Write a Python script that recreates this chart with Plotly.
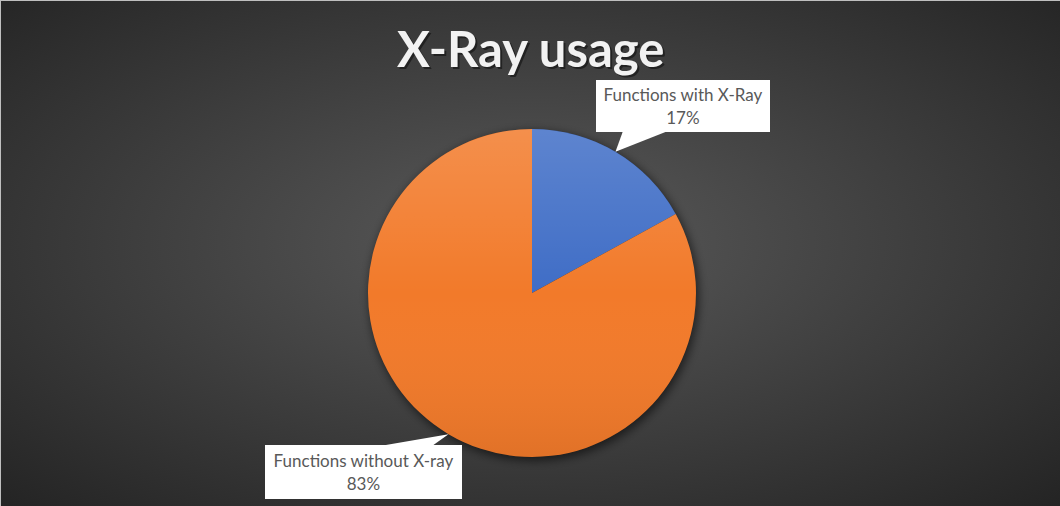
import math, base64
import plotly.graph_objects as go

# ---- data ----
labels = ["Functions with X-Ray", "Functions without X-ray"]
values = [17, 83]
pct_text = ["17%", "83%"]
colors = ["#3F6DC6", "#F27A2A"]
title_text = "X-Ray usage"

W, H = 1060, 506
cx, cy, r = 532, 293, 164          # pie centre / radius in pixels (layout)

def px(x):  # pixel -> paper
    return x / W
def py(y):
    return 1 - y / H

fig = go.Figure(go.Pie(
    labels=labels, values=values, sort=False, direction="clockwise", rotation=0,
    marker=dict(colors=colors, line=dict(width=0)),
    textinfo="none", hoverinfo="label+percent", showlegend=False,
    domain=dict(x=[px(cx - r), px(cx + r)], y=[py(cy + r), py(cy - r)]),
))

# background radial gradient + pie shadow
bg_svg = f'''<svg xmlns="http://www.w3.org/2000/svg" width="{W}" height="{H}" viewBox="0 0 {W} {H}">
<defs>
<radialGradient id="g" cx="50%" cy="48%" r="72%">
<stop offset="0%" stop-color="#5a5a5a"/><stop offset="100%" stop-color="#242424"/></radialGradient>
<filter id="b" x="-30%" y="-30%" width="160%" height="160%"><feGaussianBlur stdDeviation="5"/></filter>
</defs>
<rect width="{W}" height="{H}" fill="url(#g)"/>
<circle cx="{cx+2}" cy="{cy+3}" r="{r+1}" fill="rgba(0,0,0,0.55)" filter="url(#b)"/>
</svg>'''
ov_svg = f'''<svg xmlns="http://www.w3.org/2000/svg" width="{2*r}" height="{2*r}" viewBox="0 0 {2*r} {2*r}">
<defs><linearGradient id="l" x1="0" y1="0" x2="0" y2="1">
<stop offset="0%" stop-color="rgba(255,255,255,0.16)"/>
<stop offset="50%" stop-color="rgba(255,255,255,0)"/>
<stop offset="100%" stop-color="rgba(0,0,0,0.07)"/></linearGradient></defs>
<circle cx="{r}" cy="{r}" r="{r}" fill="url(#l)"/></svg>'''

def uri(s):
    return "data:image/svg+xml;base64," + base64.b64encode(s.encode()).decode()

images = [
    dict(source=uri(bg_svg), xref="paper", yref="paper", x=0, y=1, sizex=1, sizey=1,
         xanchor="left", yanchor="top", sizing="stretch", layer="below"),
    dict(source=uri(ov_svg), xref="paper", yref="paper", x=px(cx - r), y=py(cy - r),
         sizex=2 * r / W, sizey=2 * r / H, xanchor="left", yanchor="top",
         sizing="stretch", layer="above"),
]

# label boxes (layout positions: centre x, centre y, width, height, pointer base x0,x1, base y)
boxes = [
    dict(cx=683, cy=106, w=174, h=52, bx0=623, bx1=668, by=131),
    dict(cx=363.5, cy=472, w=197, h=54, bx0=380, bx1=432, by=446),
]

total = sum(values)
cum = 0
shapes, annotations = [], []
for i, v in enumerate(values):
    mid = (cum + v / 2) / total * 2 * math.pi
    cum += v
    tx = cx + r * math.sin(mid)
    ty = cy - r * math.cos(mid)
    b = boxes[i]
    path = (f"M {px(b['bx0'])},{py(b['by'])} L {px(tx)},{py(ty)} "
            f"L {px(b['bx1'])},{py(b['by'])} Z")
    shapes.append(dict(type="path", path=path, xref="paper", yref="paper",
                       fillcolor="white", line=dict(width=0), layer="above"))
    annotations.append(dict(
        text=f"{labels[i]}<br>{pct_text[i]}", xref="paper", yref="paper",
        x=px(b["cx"]), y=py(b["cy"]), xanchor="center", yanchor="middle",
        width=b["w"], height=b["h"], bgcolor="white", borderpad=0, borderwidth=0,
        align="center", valign="middle", showarrow=False,
        font=dict(family="Lato, Open Sans, sans-serif", size=17, color="#595959")))

# thin light frame at top / left edges
shapes.append(dict(type="line", xref="paper", yref="paper", x0=0, x1=1, y0=py(0.5), y1=py(0.5),
                   line=dict(color="#bfbfbf", width=1)))
shapes.append(dict(type="line", xref="paper", yref="paper", x0=px(0.5), x1=px(0.5), y0=0, y1=1,
                   line=dict(color="#bfbfbf", width=1)))

# title with soft shadow
annotations.append(dict(text=f"<b>{title_text}</b>", xref="paper", yref="paper",
                        x=px(532), y=py(50), xanchor="center", yanchor="middle",
                        showarrow=False,
                        font=dict(family="Lato, Open Sans, sans-serif", size=49,
                                  color="rgba(0,0,0,0.45)")))
annotations.append(dict(text=f"<b>{title_text}</b>", xref="paper", yref="paper",
                        x=px(530), y=py(48), xanchor="center", yanchor="middle",
                        showarrow=False,
                        font=dict(family="Lato, Open Sans, sans-serif", size=49,
                                  color="#f2f2f2")))

fig.update_layout(
    width=W, height=H, margin=dict(l=0, r=0, t=0, b=0),
    paper_bgcolor="#444444", plot_bgcolor="rgba(0,0,0,0)",
    images=images, shapes=shapes, annotations=annotations,
)
fig.write_html("out.html")
